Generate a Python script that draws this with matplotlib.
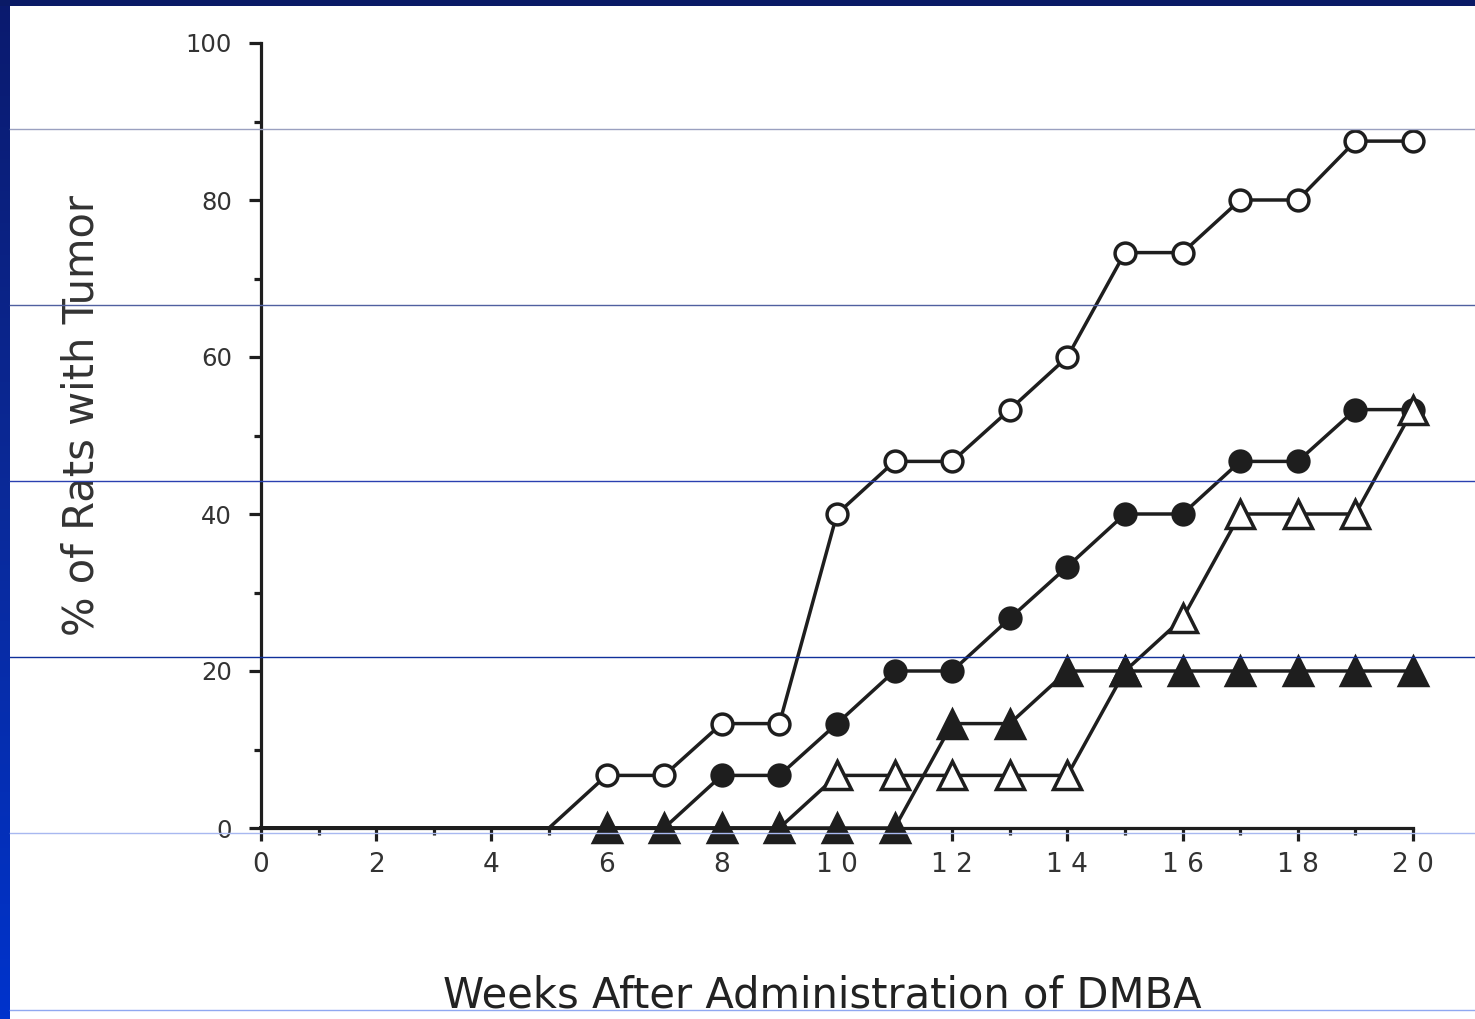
import numpy as np
import matplotlib
matplotlib.use("Agg")
import matplotlib.pyplot as plt
from matplotlib.lines import Line2D

plt.rcParams['font.family'] = ['DejaVu Sans']

# ---- data ----
weeks = list(range(0, 21))
open_circles   = [0, 0, 0, 0, 0, 0, 6.7, 6.7, 13.3, 13.3, 40, 46.7, 46.7, 53.3, 60, 73.3, 73.3, 80, 80, 87.5, 87.5]
filled_circles = [0, 0, 0, 0, 0, 0, 0, 0, 6.7, 6.7, 13.3, 20, 20, 26.7, 33.3, 40, 40, 46.7, 46.7, 53.3, 53.3]
open_triangles = [0, 0, 0, 0, 0, 0, 0, 0, 0, 0, 6.7, 6.7, 6.7, 6.7, 6.7, 20, 26.7, 40, 40, 40, 53.3]
filled_triangles = [0, 0, 0, 0, 0, 0, 0, 0, 0, 0, 0, 0, 13.3, 13.3, 20, 20, 20, 20, 20, 20, 20]
# first week at which each series shows markers
first_marker = {"oc": 6, "fc": 8, "ot": 10, "ft": 6}

xtick_vals = [0, 2, 4, 6, 8, 10, 12, 14, 16, 18, 20]
xtick_labels = ["0", "2", "4", "6", "8", "1 0", "1 2", "1 4", "1 6", "1 8", "2 0"]
ytick_vals = [0, 20, 40, 60, 80, 100]
ytick_labels = ["0", "20", "40", "60", "80", "100"]

W, H = 1475, 1019
fig = plt.figure(figsize=(W / 100, H / 100), dpi=100)
fig.patch.set_facecolor("white")

ax = fig.add_axes([261 / W, 1 - 828 / H, (1413 - 261) / W, (828 - 43) / H])
ax.set_xlim(0, 20)
ax.set_ylim(0, 100)
ax.set_facecolor("none")

ink = "#1e1e1e"
lw = 2.5

def plot_series(vals, key, marker, fill, ms, z):
    start = first_marker[key]
    ax.plot(weeks, vals, color=ink, lw=lw, zorder=z, clip_on=False,
            marker=marker, markersize=ms, markerfacecolor=fill, markeredgecolor=ink,
            markeredgewidth=2.5, markevery=list(range(start, len(weeks))))

plot_series(filled_circles, "fc", "o", ink, 15, 3)
plot_series(open_circles, "oc", "o", "white", 15, 3)
plot_series(open_triangles, "ot", "^", "white", 20, 4)
plot_series(filled_triangles, "ft", "^", ink, 20, 5)

for s in ["top", "right"]:
    ax.spines[s].set_visible(False)
for s in ["left", "bottom"]:
    ax.spines[s].set_color(ink)
    ax.spines[s].set_linewidth(2.3)
    ax.spines[s].set_zorder(2)

ax.set_xticks(xtick_vals)
ax.set_xticklabels(xtick_labels)
ax.set_xticks(np.arange(1, 20, 2), minor=True)
ax.set_yticks(ytick_vals)
ax.set_yticklabels(ytick_labels)
ax.set_yticks(np.arange(10, 100, 20), minor=True)
ax.tick_params(axis="both", which="major", length=9, width=2.3, color=ink,
               labelcolor="#333333")
ax.tick_params(axis="x", which="major", pad=8, labelsize=19)
ax.tick_params(axis="y", which="major", pad=12, labelsize=17.5)
ax.tick_params(axis="both", which="minor", length=5, width=2.3, color=ink)

fig.text(82 / W, 1 - 416 / H, "% of Rats with Tumor", rotation=90,
         ha="center", va="center", fontsize=30, color="#333333")
fig.text(822 / W, 1 - 995 / H, "Weeks After Administration of DMBA",
         ha="center", va="center", fontsize=30, color="#222222")

# slide decoration: blue frame and horizontal rules
grad = np.linspace(0, 1, 256).reshape(-1, 1)
cmap = matplotlib.colors.LinearSegmentedColormap.from_list("b", ["#0a1a6e", "#0a2a9a", "#0033cc"])
bax = fig.add_axes([0, 0, 10 / W, 1])
bax.imshow(grad, aspect="auto", cmap=cmap, extent=[0, 1, 1, 0])
bax.axis("off")
tax = fig.add_axes([0, 1 - 6 / H, 1, 6 / H])
tax.set_facecolor("#0a1a66")
tax.set_xticks([]); tax.set_yticks([])
for s in tax.spines.values():
    s.set_visible(False)

rules = [(129, "#9aa0c0"), (305, "#5060a0"), (481, "#2a40b0"), (657, "#10309a"),
         (833, "#a8b8f0"), (1010, "#90a8f0")]
for ypix, c in rules:
    fig.add_artist(Line2D([10 / W, 1], [1 - ypix / H, 1 - ypix / H], transform=fig.transFigure,
                          color=c, lw=1.0, zorder=10))

fig.savefig("out.png", dpi=100)
